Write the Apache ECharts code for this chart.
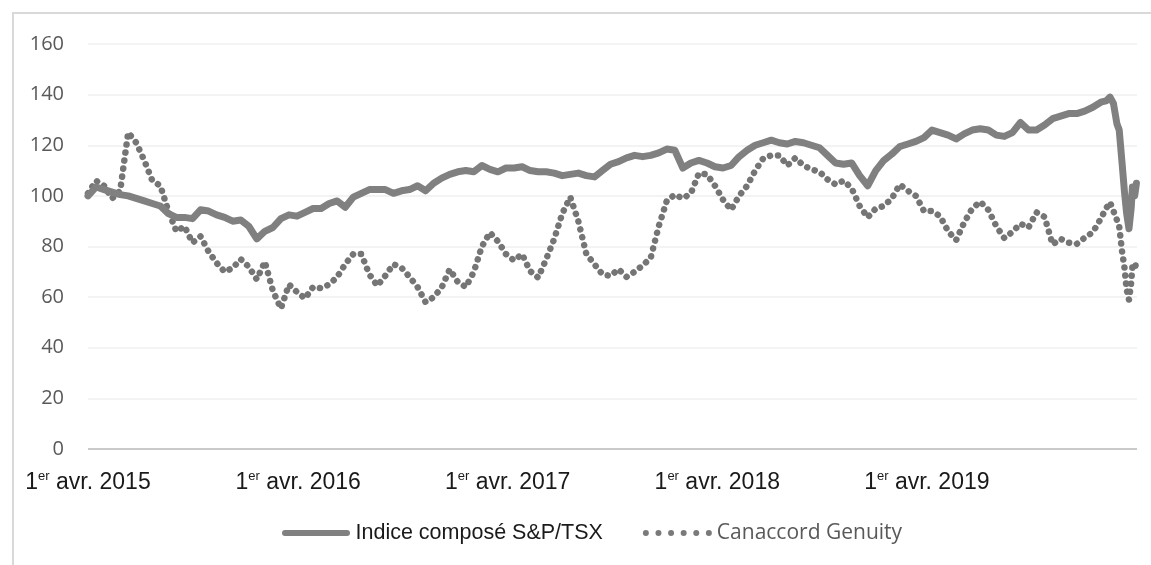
<!DOCTYPE html>
<html>
	<head>
		<meta charset="utf-8" />
		<title>Indice S&amp;P/TSX et Canaccord Genuity</title>
		<script type="text/javascript" src="https://cdn.jsdelivr.net/npm/echarts@6/dist/echarts.min.js"></script>
	</head>
	<body style="margin:0;background:#fff;">
		<div id="chart" style="width:1151px;height:565px;"></div>
	</body>
	<script>
	// valeurs toutes les deux semaines a partir du 1er avril 2015
	var startDate = '2015-04-01';
	var stepDays = 14;
	var tsx = [
		100, 103.5, 102.5, 101.5, 100.5, 100, 99, 98, 97, 96, 93, 91.5, 91.5, 91, 94.5, 94, 92.5, 91.5, 90, 90.5, 88, 83, 86, 87.5, 91, 92.5,
		92, 93.5, 95, 95, 97, 98, 95.5, 99.5, 101, 102.5, 102.5, 102.5, 101, 102, 102.5, 104, 102, 105, 107, 108.5, 109.5, 110, 109.5, 112, 110.5, 109.5, 111,
		111, 111.5, 110, 109.5, 109.5, 109, 108, 108.5, 109, 108, 107.5, 110, 112.5, 113.5, 115, 116, 115.5, 116, 117, 118.5, 118, 111, 113, 114, 113, 111.5,
		111, 112, 115.5, 118, 120, 121, 122, 121, 120.5, 121.5, 121, 120, 119, 116, 113, 112.5, 113, 108, 104, 110, 114, 116.5, 119.5, 120.5, 121.5, 123,
		126, 125, 124, 122.5, 124.5, 126, 126.5, 126, 124, 123.5, 125, 129, 126, 126, 128, 130.5, 131.5, 132.5, 132.5, 133.5, 135, 137
	];
	var cg = [
		101, 106, 104, 99, 102, 125, 121, 114, 106, 104, 94, 86, 88, 81.5, 84, 78, 73.5, 70, 71.5, 75, 72, 67, 74, 62.5, 55.5, 65,
		62, 59.5, 64, 63.5, 65, 68, 73, 77, 77, 69, 64.5, 68.5, 73, 71.6, 68, 64, 58, 60, 63.8, 71, 66, 64, 70, 80, 85.5, 82, 77,
		74.5, 77, 70.3, 67.7, 75, 83, 93, 99.5, 90, 77, 73, 69, 68.4, 71, 68, 70, 72.5, 75.5, 88, 98, 100.5, 99, 101, 108.9, 108.5, 104,
		98.5, 94.5, 100, 104, 110, 114.8, 116, 116, 112, 115, 112, 110.5, 109.5, 106.5, 104.5, 106, 103, 96, 91.5, 95, 96, 99, 104.5, 102, 100, 94,
		94, 92, 86, 82.5, 89.5, 95, 97.7, 94.5, 88, 83.3, 85.8, 89, 87.5, 93.5, 91.7, 80.8, 83, 81.5, 81, 83.5, 85.6, 91
	];
	// krach de 2020, points plus rapproches
	var crashDates = ['2020-02-07', '2020-02-14', '2020-02-20', '2020-02-26', '2020-03-01', '2020-03-06', '2020-03-10',
		'2020-03-14', '2020-03-18', '2020-03-22', '2020-03-24', '2020-03-28', '2020-03-31'];
	var tsxCrash = [137.5, 139, 136.5, 128.5, 126, 113, 102, 93, 87, 95.5, 103.5, 100, 105];
	var cgCrash = [95, 97.5, 94, 90.5, 88, 78, 72, 63, 59, 66, 72, 71, 74];
	var tickYears = [2015, 2016, 2017, 2018, 2019];
	var yTicks = [0, 20, 40, 60, 80, 100, 120, 140, 160];

	var dates = [];
	var t0 = Date.parse(startDate);
	for (var i = 0; i < tsx.length; i++) {
		dates.push(t0 + i * stepDays * 86400000);
	}
	crashDates.forEach(function (d) { dates.push(Date.parse(d)); });
	var tsxAll = tsx.concat(tsxCrash);
	var cgAll = cg.concat(cgCrash);
	var tsxData = dates.map(function (d, k) { return [d, tsxAll[k]]; });
	var cgData = dates.map(function (d, k) { return [d, cgAll[k]]; });
	var xMin = Date.UTC(2015, 3, 1);
	var xMax = Date.UTC(2020, 3, 1);

	// icones de legende : trait plein et six points
	var barIcon = 'path://M3,0h62a3,3 0 0,1 0,6h-62a3,3 0 0,1 0,-6z';
	var dotIcon = 'path://';
	for (var k = 0; k < 6; k++) {
		var cx = 3 + k * 12.6;
		dotIcon += 'M' + (cx - 3) + ',3a3,3 0 1,0 6,0a3,3 0 1,0 -6,0z';
	}

	var myChart = echarts.init(document.getElementById('chart'), null, { renderer: 'canvas' });
	var option = {
		animation: false,
		graphic: [{
			type: 'rect',
			shape: { x: 13, y: 13, width: 1200, height: 600 },
			style: { fill: 'none', stroke: '#d9d9d9', lineWidth: 2 }
		}],
		grid: { left: 88, right: 14, top: 44, bottom: 116 },
		legend: {
			left: 277,
			top: 517,
			itemWidth: 69,
			itemHeight: 6,
			itemGap: 40,
			data: [
				{ name: 'Indice composé S&P/TSX', icon: barIcon,
					textStyle: { fontFamily: 'Liberation Sans', fontSize: 21.5, color: '#1a1a1a' } },
				{ name: 'Canaccord Genuity', icon: dotIcon,
					textStyle: { fontFamily: 'Open Sans', fontSize: 21, color: '#595959' } }
			]
		},
		xAxis: {
			type: 'value',
			min: xMin,
			max: xMax,
			splitLine: { show: false },
			axisTick: { show: false },
			axisLine: { show: false },
			axisLabel: {
				customValues: tickYears.map(function (y) { return Date.UTC(y, 3, 1); }),
				hideOverlap: false,
				margin: 21,
				formatter: function (v) {
					return '{n|1}{s|er}{n| avr. ' + new Date(v).getUTCFullYear() + '}';
				},
				rich: {
					n: { fontFamily: 'Liberation Sans', fontSize: 23, lineHeight: 26, color: '#1a1a1a' },
					s: { fontFamily: 'Liberation Sans', fontSize: 13, lineHeight: 14, color: '#1a1a1a', verticalAlign: 'top' }
				}
			}
		},
		yAxis: {
			type: 'value',
			min: yTicks[0],
			max: yTicks[yTicks.length - 1],
			interval: 20,
			axisLine: { show: false },
			axisTick: { show: false },
			axisLabel: { fontFamily: 'Open Sans', fontSize: 20, color: '#595959', margin: 24 },
			splitLine: { lineStyle: { color: '#efefef', width: 1.5 } }
		},
		series: [
			{
				name: 'Indice composé S&P/TSX',
				type: 'line',
				symbol: 'none',
				data: tsxData,
				lineStyle: { color: '#808080', width: 7, join: 'round', cap: 'round' },
				itemStyle: { color: '#808080' },
				z: 3
			},
			{
				name: 'Canaccord Genuity',
				type: 'line',
				symbol: 'none',
				data: cgData,
				lineStyle: { color: '#757575', width: 6.5, type: [0.1, 8], cap: 'round', join: 'round' },
				itemStyle: { color: '#7a7a7a' },
				z: 2
			},
			{
				// ligne de base a 0
				type: 'line',
				symbol: 'none',
				silent: true,
				data: [[xMin, 0], [xMax, 0]],
				lineStyle: { color: '#c9c9c9', width: 2 },
				z: 1
			}
		]
	};
	myChart.setOption(option);
	window.addEventListener('resize', myChart.resize);
	</script>
</html>
